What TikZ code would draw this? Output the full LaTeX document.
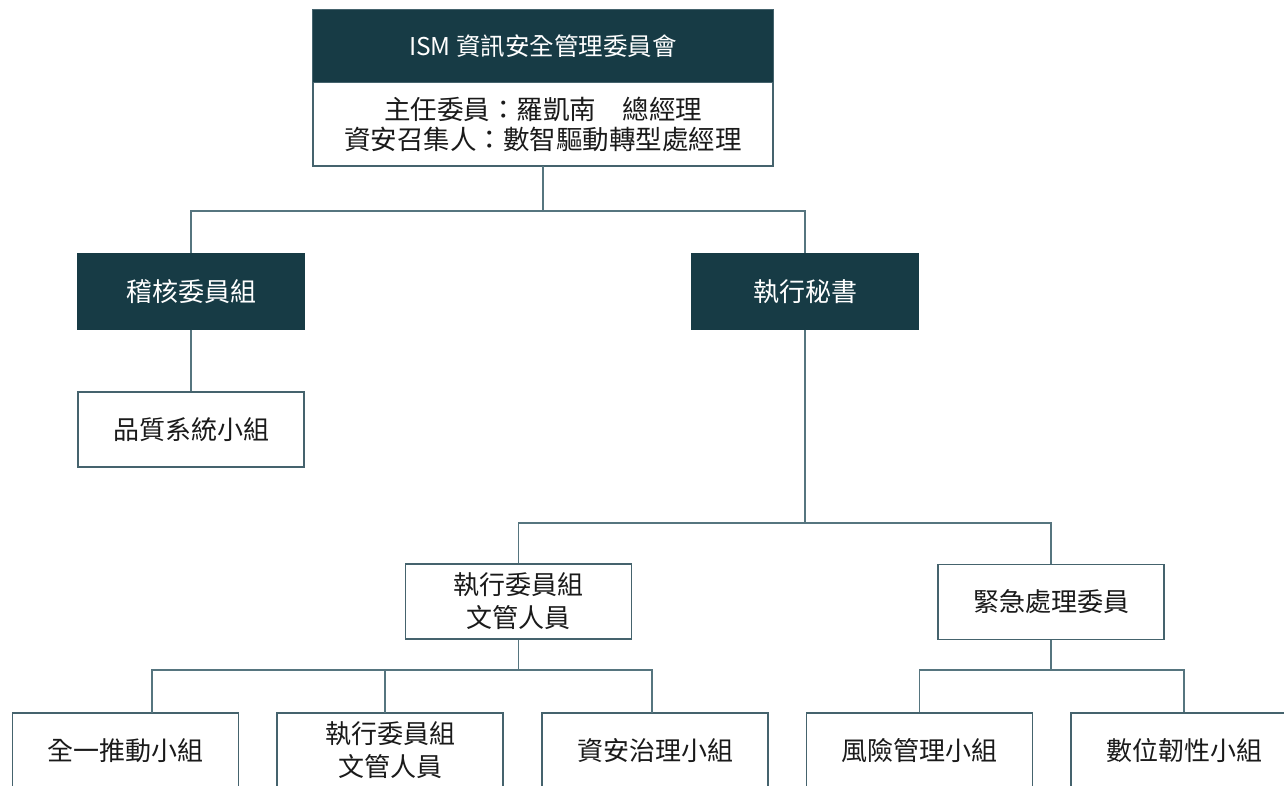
\documentclass[tikz,border=0pt]{standalone}
\usepackage{fontspec}
\setmainfont{Noto Sans CJK TC}
\definecolor{darkteal}{HTML}{173B45}
\definecolor{edgecol}{HTML}{56757F}
\definecolor{framecol}{HTML}{45636D}
\definecolor{inkcol}{HTML}{1A1A1A}
\begin{document}
\begin{tikzpicture}[x=1pt,y=-1pt,
  box/.style={draw=framecol, line width=1.3pt, fill=white, minimum width=226pt, minimum height=75pt,
    inner sep=0pt, align=center, text=inkcol, font=\fontsize{26}{33}\selectfont},
  darkbox/.style={box, fill=darkteal, draw=darkteal, text=white},
  link/.style={draw=edgecol, line width=1.3pt}]
\useasboundingbox (0,0) rectangle (1284,785);
\clip (0,0) rectangle (1284,785);

% top committee
\node[darkbox, minimum width=460pt, minimum height=72pt, font=\fontsize{24.5}{30}\selectfont] (tophead) at (543,46) {ISM 資訊安全管理委員會};
\node[box, minimum width=460pt, minimum height=83.5pt, font=\fontsize{26.5}{30}\selectfont] (topbody) at (543,124) {主任委員：羅凱南　總經理\\資安召集人：數智驅動轉型處經理};
\draw[framecol, line width=1.3pt] (tophead.north west) rectangle (topbody.south east);

% level 2
\node[darkbox] (audit) at (191,291.5) {稽核委員組};
\node[darkbox] (sec) at (805,291.5) {執行秘書};
\node[box] (quality) at (191,429.5) {品質系統小組};

% level 3
\node[box] (exec) at (518.5,601.5) {執行委員組\\文管人員};
\node[box] (emerg) at (1051,602) {緊急處理委員};

% level 4
\node[box] (b1) at (125.5,750.5) {全一推動小組};
\node[box] (b2) at (390,750.5) {執行委員組\\文管人員};
\node[box] (b3) at (655,750.5) {資安治理小組};
\node[box] (b4) at (919.5,750.5) {風險管理小組};
\node[box] (b5) at (1184,750.5) {數位韌性小組};

% connectors
\coordinate (j1) at (543,211);
\draw[link] (topbody.south) -- (j1);
\draw[link] (audit.north) |- (j1) -| (sec.north);
\draw[link] (audit.south) -- (quality.north);

\coordinate (j2) at (805,523);
\draw[link] (sec.south) -- (j2);
\draw[link] (exec.north) |- (j2) -| (emerg.north);

\coordinate (j3) at (518.5,670);
\coordinate (b1top) at (152,713);
\coordinate (b2top) at (385,713);
\coordinate (b3top) at (652,713);
\draw[link] (exec.south) -- (j3);
\draw[link] (b1top) |- (j3) -| (b3top);
\draw[link] (b2top) -- (b2top |- j3);

\coordinate (j4) at (1051,670);
\draw[link] (emerg.south) -- (j4);
\draw[link] (b4.north) |- (j4) -| (b5.north);
\end{tikzpicture}
\end{document}
